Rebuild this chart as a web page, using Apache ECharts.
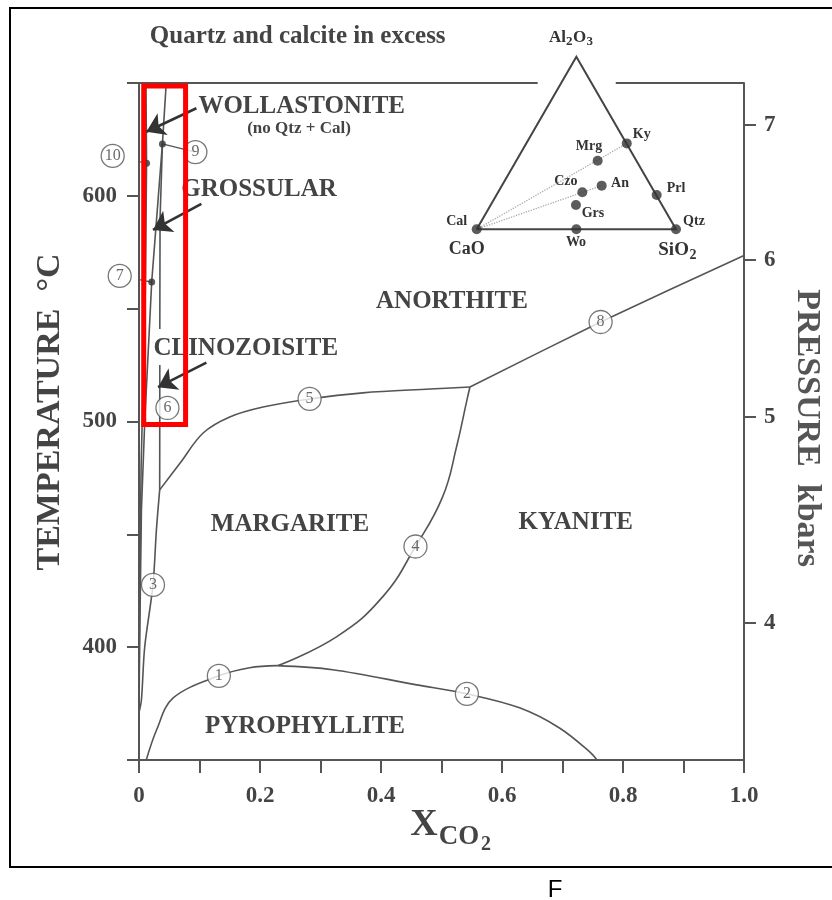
<!DOCTYPE html>
<html><head><meta charset="utf-8">
<script src="https://cdn.jsdelivr.net/npm/echarts@6/dist/echarts.min.js"></script>
<style>html,body{margin:0;padding:0;background:#fff}#c{width:832px;height:900px}</style>
</head><body><div id="c"></div>
<script>
// ---------------- data ----------------
const xTickValues = [0, 0.1, 0.2, 0.3, 0.4, 0.5, 0.6, 0.7, 0.8, 0.9, 1.0];
const xLabelValues = [0, 0.2, 0.4, 0.6, 0.8, 1.0];
const tempTickValues = [350, 400, 450, 500, 550, 600, 650];
const tempLabelValues = [400, 500, 600];
const pressureLabels = ['4', '5', '6', '7'];
const pressureAtTemp = [410.7, 502.0, 571.6, 631.4];

// reaction curves [XCO2, T°C]
const curve1 = [[0.012,350],[0.029,363.3],[0.056,377.4],[0.132,387.3],[0.183,390.9],[0.229,391.8]];
const curve2 = [[0.229,391.8],[0.320,390],[0.459,383.3],[0.542,379.3],[0.629,373.1],[0.695,364.2],[0.745,353.6],[0.757,350]];
const curve3 = [[0.0342,469.7],[0.0288,452],[0.0231,427.6],[0.0094,400],[0.004,376.6],[0,371]];
const curve4 = [[0.547,515.3],[0.542,509.5],[0.525,488.9],[0.502,466.7],[0.457,444.6],[0.403,422.4],[0.327,404.7],[0.229,391.8]];
const curve5 = [[0.0342,469.7],[0.068,481.6],[0.106,494.9],[0.150,502],[0.205,506.4],[0.282,510],[0.370,512.7],[0.481,514.4],[0.547,515.3]];
const curve6Upper = [[0.0387,623],[0.0348,590],[0.0344,541]];
const curve6Lower = [[0.0344,525],[0.0343,500],[0.0342,469.7]];
const curve7 = [[0.045,650],[0.0387,623],[0.021,561.8],[0.0096,500.7],[0.004,460.8],[0.001,400],[0,372]];
const curve8 = [[0.547,515.3],[0.763,544.1],[1.0,573.6]];
const curve10 = [[0.0115,650],[0.0125,614.4],[0.0105,558.3],[0.0035,480],[0.001,420],[0,375]];

// numbered reaction markers
const circleNames = ['1','2','3','4','5','6','7','8','9','10'];
const circlePos = [[0.132,387.3],[0.542,379.3],[0.0231,427.6],[0.457,444.6],[0.282,510],[0.047,506],[-0.0319,564.5],[0.763,544.1],[0.0932,619.4],[-0.0435,617.7]];
// invariant points with leader lines to their circle
const dotNames = ['7','9','10'];
const dotPos = [[0.021,561.8],[0.0387,623],[0.0125,614.4]];

// arrows [from, to]
const arrowW = [[0.0949,638.8],[0.0122,628.4]];
const arrowG = [[0.1031,596.4],[0.0231,584.9]];
const arrowC = [[0.1114,526.1],[0.0314,515.2]];

// top frame of the plot (broken around the inset apex)
const topLeftSeg = [[0,650],[0.659,650]];
const topRightSeg = [[0.788,650],[1,650]];

// red highlight box
const highlightBox = [[0.0078,648.7],[0.077,648.7],[0.077,498.7],[0.0078,498.7],[0.0078,648.7]];

// ternary inset (cartesian ternary coords)
const ternaryEdge = [[0,0],[1,0],[0.5,0.866],[0,0]];
const ternaryNames = ['Cal','Wo','Qtz','Prl','Ky','Mrg','An','Czo','Grs'];
const ternaryPoints = [[0,0],[0.5,0],[1,0],[0.903,0.172],[0.753,0.431],[0.607,0.344],[0.627,0.219],[0.53,0.186],[0.498,0.122]];
const tieCalKy = [[0,0],[0.753,0.431]];
const tieCalAn = [[0,0],[0.627,0.219]];

// ---------------- chart ----------------
const SERIF = '"Liberation Serif", "Times New Roman", serif';
const LINE = '#555';
const chart = echarts.init(document.getElementById('c'));

function curve(data, smooth) {
  return {type:'line', xAxisIndex:0, yAxisIndex:0, data, showSymbol:false, symbol:'none',
    smooth: smooth || false, silent:true, clip:false, z:3,
    lineStyle:{color:LINE, width:1.6}};
}
function nearestIdx(arr, v){let b=0;for(let i=1;i<arr.length;i++){if(Math.abs(arr[i]-v)<Math.abs(arr[b]-v))b=i;}return b;}
function txt(text, x, y, size, opts) {
  opts = opts || {};
  return {type:'text', x, y, rotation: opts.rotation || 0, z: 1,
    style:{text, font:(opts.weight||'bold')+' '+size+'px '+(opts.family||SERIF), fill: opts.color||'#444',
      textAlign: opts.align||'center', textVerticalAlign:'middle', align: opts.align||'center', verticalAlign:'middle'}};
}

const series = [
  curve(curve1, 0.35), curve(curve2, 0.35), curve(curve3, 0.3), curve(curve4, 0.45),
  curve(curve5, 0.35), curve(curve6Upper), curve(curve6Lower), curve(curve7), curve(curve8, 0.2), curve(curve10),
  curve(topLeftSeg), curve(topRightSeg)
];
series[10].lineStyle = {color:LINE, width:2};
series[11].lineStyle = {color:LINE, width:2};
// leaders from circles to invariant points
dotNames.forEach((n, i) => {
  const ci = circleNames.indexOf(n);
  const s = curve([circlePos[ci], dotPos[i]]);
  s.lineStyle = {color:LINE, width:1.3};
  series.push(s);
});
series.push({type:'scatter', xAxisIndex:0, yAxisIndex:0, silent:true, clip:false, z:4,
  symbolSize:7, itemStyle:{color:'#333'}, data: dotPos});
series.push({type:'scatter', xAxisIndex:0, yAxisIndex:0, silent:true, clip:false, z:5,
  symbol:'circle', symbolSize:23,
  itemStyle:{color:'#fff', borderColor:'#555', borderWidth:1.3},
  label:{show:true, position:'inside', formatter: p => p.name, fontFamily:SERIF, fontSize:16,
    color:'#444', textBorderWidth:0, textShadowBlur:0},
  data: circlePos.map((p, i) => ({name: circleNames[i], value: p}))});
series.push({type:'lines', coordinateSystem:'cartesian2d', xAxisIndex:0, yAxisIndex:0, silent:true, z:6,
  symbol:['none','arrow'], symbolSize:[9,18],
  lineStyle:{color:'#333', width:2.6, opacity:1},
  data:[{coords:arrowW},{coords:arrowG},{coords:arrowC}]});
series.push({type:'line', xAxisIndex:0, yAxisIndex:0, data: highlightBox, showSymbol:false, symbol:'none',
  silent:true, clip:false, z:10, lineStyle:{color:'#ff0000', width:5, join:'miter', cap:'square'}});
// ternary inset (grid 1: xAxis 1, yAxis 2)
series.push({type:'line', xAxisIndex:1, yAxisIndex:2, data: tieCalKy, showSymbol:false, symbol:'none', silent:true, z:3,
  lineStyle:{color:'#aaa', width:1.3, type:'dotted'}});
series.push({type:'line', xAxisIndex:1, yAxisIndex:2, data: tieCalAn, showSymbol:false, symbol:'none', silent:true, z:3,
  lineStyle:{color:'#aaa', width:1.3, type:'dotted'}});
series.push({type:'line', xAxisIndex:1, yAxisIndex:2, data: ternaryEdge, showSymbol:false, symbol:'none', silent:true, z:3,
  clip:false, lineStyle:{color:'#444', width:2, join:'miter'}});
series.push({type:'scatter', xAxisIndex:1, yAxisIndex:2, silent:true, clip:false, z:4, symbolSize:10,
  itemStyle:{color:'#333'}, data: ternaryPoints.map((p,i)=>({name:ternaryNames[i], value:p}))});

const axisFont = {fontFamily:SERIF, fontWeight:'bold', fontSize:23, color:'#444'};

const option = {
  animation:false,
  backgroundColor:'#fff',
  grid:[
    {left:139, right:88, top:83, bottom:140, containLabel:false},
    {left:476.7, top:56.7, width:199.3, height:172.6, containLabel:false}
  ],
  xAxis:[
    {type:'value', gridIndex:0, min:0, max:1, interval:0.1, position:'bottom',
      axisLine:{show:true, onZero:false, lineStyle:{color:LINE, width:2}},
      axisTick:{show:true, inside:false, length:13, customValues:xTickValues, lineStyle:{color:LINE, width:2}},
      axisLabel:Object.assign({show:true, margin:25, customValues:xLabelValues,
        formatter: v => v === 0 ? '0' : v.toFixed(1)}, axisFont),
      splitLine:{show:false}},
    {type:'value', gridIndex:1, min:0, max:1, show:false}
  ],
  yAxis:[
    {type:'value', gridIndex:0, min:350, max:650, interval:50, position:'left',
      axisLine:{show:true, onZero:false, lineStyle:{color:LINE, width:2}},
      axisTick:{show:true, inside:false, length:12, customValues:tempTickValues, lineStyle:{color:LINE, width:2}},
      axisLabel:Object.assign({show:true, margin:22, customValues:tempLabelValues}, axisFont),
      splitLine:{show:false}},
    {type:'value', gridIndex:0, min:350, max:650, position:'right',
      axisLine:{show:true, onZero:false, lineStyle:{color:LINE, width:2}},
      axisTick:{show:true, inside:false, length:12, customValues:pressureAtTemp, lineStyle:{color:LINE, width:2}},
      axisLabel:Object.assign({show:true, margin:20, customValues:pressureAtTemp,
        formatter: v => pressureLabels[nearestIdx(pressureAtTemp, v)]}, axisFont),
      splitLine:{show:false}},
    {type:'value', gridIndex:1, min:0, max:0.866, show:false}
  ],
  graphic:[
    {type:'rect', z:0, shape:{x:10, y:8, width:830, height:859}, style:{fill:'none', stroke:'#000', lineWidth:2}},
    txt('Quartz and calcite in excess', 297.7, 37, 25),
    txt('WOLLASTONITE', 301.7, 106.7, 25),
    txt('(no Qtz + Cal)', 299, 129, 17),
    txt('GROSSULAR', 259, 190, 25),
    txt('ANORTHITE', 452, 302, 25),
    txt('CLINOZOISITE', 245.8, 348.3, 25),
    txt('MARGARITE', 290, 525, 25),
    txt('KYANITE', 575.8, 523, 25),
    txt('PYROPHYLLITE', 305, 726.7, 25),
    txt('TEMPERATURE  °C', 50, 412, 34, {rotation:Math.PI/2}),
    txt('PRESSURE  kbars', 806.7, 428, 34, {rotation:-Math.PI/2, color:'#555'}),
    txt('X', 424, 825, 38, {color:'#444'}),
    txt('CO', 459, 837.5, 27, {color:'#444'}),
    txt('2', 481, 845, 20, {align:'left', color:'#444'}),
    txt('F', 555, 890, 24, {weight:'normal', family:'"Liberation Sans", Arial, sans-serif', color:'#000'}),
    // ternary labels
    txt('Al', 549, 37.5, 17, {align:'left', color:'#333'}),
    txt('2', 566, 42, 13, {align:'left', color:'#333'}),
    txt('O', 573, 37.5, 17, {align:'left', color:'#333'}),
    txt('3', 586.5, 42, 13, {align:'left', color:'#333'}),
    txt('CaO', 466.7, 249, 18, {color:'#333'}),
    txt('SiO', 658.3, 250.5, 19, {align:'left', color:'#333'}),
    txt('2', 689.5, 255.5, 14, {align:'left', color:'#333'}),
    txt('Cal', 456.7, 221, 14, {color:'#333'}),
    txt('Wo', 576, 242.7, 14, {color:'#333'}),
    txt('Qtz', 694, 221, 14, {color:'#333'}),
    txt('Prl', 676, 188, 14, {color:'#333'}),
    txt('Ky', 641.7, 134, 14, {color:'#333'}),
    txt('Mrg', 589, 146, 14, {color:'#333'}),
    txt('An', 620, 183, 14, {color:'#333'}),
    txt('Czo', 565.8, 181.7, 14, {color:'#333'}),
    txt('Grs', 593, 213.5, 14, {color:'#333'})
  ],
  series
};
chart.setOption(option);
</script>
</body></html>
